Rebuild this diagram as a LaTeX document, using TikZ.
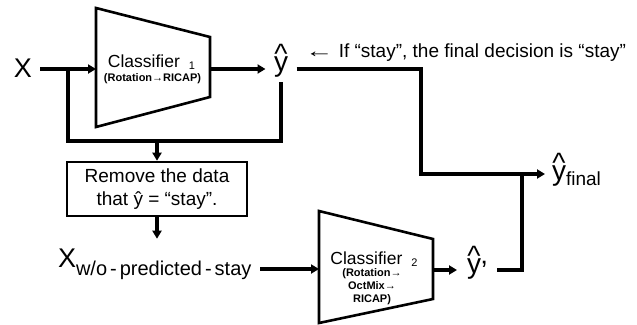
\documentclass[tikz,border=0pt]{standalone}
\usepackage{fontspec}
\setmainfont{Liberation Sans}
\usetikzlibrary{arrows.meta}

% y with a tall caret set above it
\newcommand\hy{\ooalign{y\cr\hidewidth\raisebox{0.27em}{\textasciicircum}\hidewidth\cr}}
\newcommand\fs[1]{\fontsize{#1}{#1}\selectfont}

\begin{document}
\begin{tikzpicture}[x=1pt, y=-1pt, line join=miter,
  conn/.style={line width=3.2pt},
  arr/.style={conn, -{Triangle[length=8pt,width=9pt]}},
  trap/.style={line width=2.6pt},
  lbl/.style={inner sep=0pt, outer sep=0pt, anchor=base},
]
\useasboundingbox (0,0) rectangle (637,324);

% ---------- classifier bodies ----------
\coordinate (a1) at (96,8);   \coordinate (b1) at (210,37);
\coordinate (c1) at (210,97); \coordinate (d1) at (96,127);
\draw[trap] (a1) -- (b1) -- (c1) -- (d1) -- cycle;
\coordinate (c1in) at (96,69);
\coordinate (c1out) at (210,69);

\coordinate (a2) at (319,211); \coordinate (b2) at (433,239);
\coordinate (c2) at (433,299); \coordinate (d2) at (319,323);
\draw[trap] (a2) -- (b2) -- (c2) -- (d2) -- cycle;
\coordinate (c2in) at (319,269);
\coordinate (c2out) at (433,270);

% ---------- labels ----------
\node[lbl] (cls1) at (151.5,67) {\fs{17.5}Classifier\hspace{9pt}\raisebox{-2.5pt}{\fs{11}1}};
\node[lbl] (aug1) at (152.5,81) {\fs{11}\bfseries (Rotation→RICAP)};

\node[lbl] (cls2) at (374,264) {\fs{17.5}Classifier\hspace{9pt}\raisebox{-2.5pt}{\fs{11}2}};
\node[lbl, anchor=north, align=center, font=\fontsize{11}{13}\selectfont\bfseries] (aug2) at (372,268.5)
  {(Rotation→\\OctMix→\\RICAP)};

\node[lbl, inner xsep=8pt] (x) at (23,77) {\fs{27}X};
\node[lbl, inner xsep=8.5pt, inner ysep=10.5pt] (yh) at (281,71.5) {\fs{28}\hy};
\node[lbl, anchor=base west] (note) at (305,57)
  {\fs{19}\scalebox{1.5}[1]{←} If “stay”, the final decision is “stay”};

\node[draw, line width=2.6pt, minimum width=180pt, minimum height=54pt,
  inner sep=0pt, align=center, font=\fontsize{19}{23.5}\selectfont] (rm) at (157,189)
  {Remove the data\\that ŷ = “stay”.};

\node[lbl, anchor=base west, inner xsep=9pt, inner ysep=9.7pt] (xw) at (49,267)
  {\fs{27}X\raisebox{-8pt}{\fs{20}w/o\hspace{3pt}-\hspace{3pt}predicted\hspace{3pt}-\hspace{3pt}stay}};

\node[lbl, anchor=base west, inner xsep=7pt] (yf) at (545,180)
  {\fs{28}\hy\raisebox{-5pt}{\fs{19}final}};
\node[lbl, anchor=base west, inner xsep=10pt] (yp) at (457,273)
  {\fs{28}\hy\raisebox{-0.25em}{'}};

% ---------- connectors ----------
\coordinate (j1) at (68,69);
\coordinate (j2) at (68,141);
\coordinate (j3) at (157,141);
\coordinate (j4) at (281,141);
\coordinate (e2) at (421,174);
\coordinate (e4) at (522,174);

\draw[arr] (x.east |- c1in) -- (c1in);
\draw[arr] (c1out) -- (yh.west |- c1out);
\draw[conn] (yh.south) -- (j4) -- (j2) -- (j1);
\draw[arr] (j3) -- (rm.north);
\draw[arr] (rm.south) -- (rm.south |- xw.north);
\draw[arr] (xw.east |- c2in) -- (c2in);
\draw[arr] (c2out) -- (yp.west |- c2out);
\draw[arr] (yh.east |- c1out) -| (e2) -- (yf.west |- e2);
\draw[conn] (yp.east |- c2out) -| (e4);
\end{tikzpicture}
\end{document}
